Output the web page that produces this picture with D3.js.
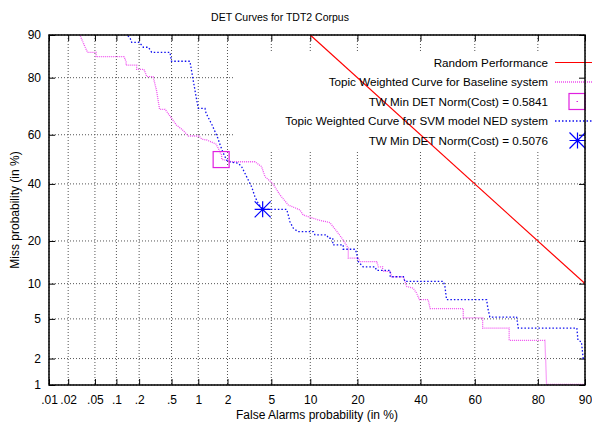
<!DOCTYPE html>
<html>
<head>
<meta charset="utf-8">
<script src="https://cdn.jsdelivr.net/npm/d3@7"></script>
<style>
body { margin: 0; background: #fff; }
text { font-family: "Liberation Sans", Arial, sans-serif; fill: #000; }
</style>
</head>
<body>
<div id="my_dataviz"></div>
<script>
// tick positions (in %) and labels
var xTicks = [0.01, 0.02, 0.05, 0.1, 0.2, 0.5, 1, 2, 5, 10, 20, 40, 60, 80, 90];
var xTickLabels = [".01", ".02", ".05", ".1", ".2", ".5", "1", "2", "5", "10", "20", "40", "60", "80", "90"];
var yTicks = [1, 2, 5, 10, 20, 40, 60, 80, 90];
var yTickLabels = ["1", "2", "5", "10", "20", "40", "60", "80", "90"];

// random performance
var randomFa = [10, 90];
var randomMiss = [90, 10];

// baseline system curve
var baseFa = [0.029, 0.034, 0.039, 0.052, 0.052, 0.127, 0.135, 0.135, 0.186, 0.186, 0.231, 0.25, 0.30, 0.33, 0.36, 0.42, 0.50, 0.57, 0.67, 0.78,
	1.02, 1.09, 1.23, 1.53, 1.62, 1.69, 1.75, 1.75, 2.20, 3.61, 4.13, 4.42, 5.13, 5.89, 6.85, 8.41, 8.89, 11.4, 13.6, 15.1,
	16.2, 17.7, 17.7, 20.2, 20.7, 25.4, 25.9, 27.2, 27.2, 29.6, 30.1, 34.0, 35.1, 37.4, 38.6, 39.6, 42.8, 43.5, 55.8, 55.8,
	62.8, 62.8, 71.7, 71.7, 81.8, 82.2, 90];
var baseMiss = [90.5, 88.4, 86.5, 86.5, 85.5, 85.5, 84.3, 83.4, 83.4, 82.3, 82.3, 80.3, 80.3, 76.2, 69.7, 69.7, 66.4, 63.8, 61.9, 59.5,
	59.5, 58.2, 57.9, 56.3, 54.5, 52.7, 51.8, 50.0, 49.0, 49.0, 47.0, 42.9, 40.2, 35.7, 31.9, 30.1, 28.3, 26.6, 25.7, 22.8,
	20.8, 18.0, 15.4, 15.4, 14.6, 14.6, 13.4, 13.4, 12.4, 12.4, 11.3, 11.3, 9.5, 9.2, 8.4, 7.4, 7.4, 6.2, 6.2, 5.1,
	5.1, 4.1, 4.1, 3.1, 3.1, 1.02, 1.02];

// SVM model NED system curve
var svmFa = [0.132, 0.152, 0.160, 0.201, 0.226, 0.262, 0.288, 0.479, 0.50, 0.81, 0.88, 0.94, 1.00, 1.18, 1.21, 1.40, 1.60, 1.69, 1.82, 1.96,
	2.11, 2.54, 2.73, 2.93, 3.14, 3.37, 3.61, 3.86, 4.22, 6.66, 6.85, 7.06, 7.49, 8.13, 10.5, 10.8, 12.95, 13.3, 14.2, 14.2,
	16.5, 16.5, 19.4, 19.8, 20.2, 21.5, 24.9, 25.4, 29.6, 29.6, 34.0, 34.5, 48.4, 49.0, 49.6, 64.2, 64.6, 65.3, 74.0, 74.5,
	88.6, 88.8, 89.4, 89.7, 90.5];
var svmMiss = [90.3, 89.5, 88.6, 88.6, 87.6, 87.6, 86.5, 86.5, 84.4, 84.4, 79.3, 74.6, 70.0, 70.0, 68.3, 63.8, 58.7, 55.9, 52.5, 49.7,
	48.9, 48.4, 47.0, 44.3, 41.6, 38.9, 35.0, 32.5, 30.3, 30.3, 28.3, 26.0, 23.9, 22.8, 22.8, 21.8, 21.8, 20.8, 20.8, 18.9,
	18.9, 17.7, 17.7, 16.7, 14.6, 13.4, 13.4, 12.6, 12.6, 11.3, 11.3, 10.4, 10.4, 9.5, 7.4, 7.4, 6.3, 5.2, 5.2, 4.1,
	4.1, 3.1, 3.0, 2.0, 2.0];

// min DET cost points
var baseMinFa = [1.73], baseMinMiss = [49.9];
var svmMinFa = [4.22], svmMinMiss = [30.3];

var legendLabels = ["Random Performance", "Topic Weighted Curve for Baseline system", "TW Min DET Norm(Cost) = 0.5841",
	"Topic Weighted Curve for SVM model NED system", "TW Min DET Norm(Cost) = 0.5076"];

// inverse normal cdf (Acklam)
function probit(p) {
	var a = [-39.69683028665376, 220.9460984245205, -275.9285104469687, 138.3577518672690, -30.66479806614716, 2.506628277459239];
	var b = [-54.47609879822406, 161.5858368580409, -155.6989798598866, 66.80131188771972, -13.28068155288572];
	var c = [-0.007784894002430293, -0.3223964580411365, -2.400758277161838, -2.549732539343734, 4.374664141464968, 2.938163982698783];
	var d = [0.007784695709041462, 0.3224671290700398, 2.445134137142996, 3.754408661907416];
	var plow = 0.02425, q, r;
	if (p < plow) {
		q = Math.sqrt(-2 * Math.log(p));
		return (((((c[0]*q+c[1])*q+c[2])*q+c[3])*q+c[4])*q+c[5]) / ((((d[0]*q+d[1])*q+d[2])*q+d[3])*q+1);
	}
	if (p > 1 - plow) {
		q = Math.sqrt(-2 * Math.log(1 - p));
		return -(((((c[0]*q+c[1])*q+c[2])*q+c[3])*q+c[4])*q+c[5]) / ((((d[0]*q+d[1])*q+d[2])*q+d[3])*q+1);
	}
	q = p - 0.5; r = q * q;
	return (((((a[0]*r+a[1])*r+a[2])*r+a[3])*r+a[4])*r+a[5])*q / (((((b[0]*r+b[1])*r+b[2])*r+b[3])*r+b[4])*r+1);
}

var margin = { top: 35, right: 7, bottom: 39, left: 49 };
var width = 592 - margin.left - margin.right,
	height = 424 - margin.top - margin.bottom;

var svg = d3.select("#my_dataviz")
	.append("svg")
	.attr("width", 592)
	.attr("height", 424)
	.style("display", "block")
	.append("g")
	.attr("transform", "translate(" + margin.left + "," + margin.top + ")");

// normal deviate scales
var xLin = d3.scaleLinear().domain([probit(0.0001), probit(0.9)]).range([0, width]);
var yLin = d3.scaleLinear().domain([probit(0.01), probit(0.9)]).range([height, 0]);
var x = function(v) { return xLin(probit(v / 100)); };
var y = function(v) { return yLin(probit(v / 100)); };

// grid
svg.append("g").selectAll("line").data(xTicks).enter().append("line")
	.attr("x1", x).attr("x2", x).attr("y1", 0).attr("y2", height)
	.attr("stroke", "#555").attr("stroke-dasharray", "1,2");
svg.append("g").selectAll("line").data(yTicks).enter().append("line")
	.attr("y1", y).attr("y2", y).attr("x1", 0).attr("x2", width)
	.attr("stroke", "#555").attr("stroke-dasharray", "1,2");

// key area hides the grid
svg.append("rect")
	.attr("x", 184).attr("y", 17).attr("width", width - 184).attr("height", 100)
	.attr("fill", "#fff");

// axes: inner ticks on all sides
var xv = xTicks.map(function(d) { return probit(d / 100); });
var yv = yTicks.map(function(d) { return probit(d / 100); });

svg.append("g")
	.attr("transform", "translate(0," + height + ")")
	.call(d3.axisBottom(xLin).tickValues(xv).tickSize(-6).tickPadding(10)
		.tickFormat(function(d, i) { return xTickLabels[i]; }))
	.style("font-family", "Liberation Sans, Arial")
	.style("font-size", "12px");
svg.append("g")
	.call(d3.axisTop(xLin).tickValues(xv).tickSize(-6).tickFormat(""));
svg.append("g")
	.call(d3.axisLeft(yLin).tickValues(yv).tickSize(-6).tickPadding(8)
		.tickFormat(function(d, i) { return yTickLabels[i]; }))
	.style("font-family", "Liberation Sans, Arial")
	.style("font-size", "12px");
svg.append("g")
	.attr("transform", "translate(" + width + ",0)")
	.call(d3.axisRight(yLin).tickValues(yv).tickSize(-6).tickFormat(""));
svg.selectAll(".domain").remove();
svg.selectAll(".tick line").attr("stroke", "#000");

// clip curves to plot area
svg.append("clipPath").attr("id", "clip")
	.append("rect").attr("width", width).attr("height", height);
var plot = svg.append("g").attr("clip-path", "url(#clip)");

var line = d3.line()
	.x(function(d) { return x(d[0]); })
	.y(function(d) { return y(d[1]); });

plot.append("path")
	.datum(d3.zip(baseFa, baseMiss))
	.attr("d", line)
	.attr("fill", "none")
	.attr("stroke", "#f050f0")
	.attr("stroke-width", 1.3)
	.attr("stroke-dasharray", "1,1");

plot.append("path")
	.datum(d3.zip(svmFa, svmMiss))
	.attr("d", line)
	.attr("fill", "none")
	.attr("stroke", "#1010f0")
	.attr("stroke-width", 1.3)
	.attr("stroke-dasharray", "1.5,2");

// min cost markers
function square(g, cx, cy) {
	g.append("rect").attr("x", cx - 8).attr("y", cy - 8).attr("width", 16).attr("height", 16)
		.attr("fill", "none").attr("stroke", "#e020e0").attr("stroke-width", 1.2);
}
function star(g, cx, cy) {
	var s = 8;
	g.append("path")
		.attr("d", "M" + (cx - s) + "," + cy + "H" + (cx + s) + "M" + cx + "," + (cy - s) + "V" + (cy + s) +
			"M" + (cx - s) + "," + (cy - s) + "L" + (cx + s) + "," + (cy + s) +
			"M" + (cx - s) + "," + (cy + s) + "L" + (cx + s) + "," + (cy - s))
		.attr("stroke", "#0000ff").attr("stroke-width", 1.2).attr("fill", "none");
}
square(plot, x(baseMinFa[0]), y(baseMinMiss[0]));
star(plot, x(svmMinFa[0]), y(svmMinMiss[0]));

// key
var keyX = 499, keyY = 27.5, keyStep = 19.5;
svg.selectAll(".key")
	.data(legendLabels)
	.enter()
	.append("text")
	.attr("x", keyX)
	.attr("y", function(d, i) { return keyY + i * keyStep; })
	.attr("dy", "0.35em")
	.attr("text-anchor", "end")
	.style("font-size", "11.7px")
	.text(function(d) { return d; });

var key = svg.append("g");
key.append("line").attr("x1", 506).attr("x2", 545).attr("y1", keyY).attr("y2", keyY)
	.attr("stroke", "#ff0000").attr("stroke-width", 1.2);
key.append("line").attr("x1", 506).attr("x2", 545).attr("y1", keyY + keyStep).attr("y2", keyY + keyStep)
	.attr("stroke", "#f050f0").attr("stroke-width", 1.3).attr("stroke-dasharray", "1,1");
square(key, 528, keyY + 2 * keyStep);
key.append("rect").attr("x", 527.5).attr("y", keyY + 2 * keyStep - 0.5).attr("width", 1.5).attr("height", 1).attr("fill", "#e020e0");
key.append("line").attr("x1", 506).attr("x2", 545).attr("y1", keyY + 3 * keyStep).attr("y2", keyY + 3 * keyStep)
	.attr("stroke", "#1010f0").attr("stroke-width", 1.3).attr("stroke-dasharray", "1.5,2");
star(key, 528.5, keyY + 4 * keyStep);

// random performance line
plot.append("path")
	.datum(d3.zip(randomFa, randomMiss))
	.attr("d", line)
	.attr("fill", "none")
	.attr("stroke", "#ff0000")
	.attr("stroke-width", 1.2);

// border
svg.append("rect")
	.attr("width", width).attr("height", height)
	.attr("fill", "none").attr("stroke", "#000").attr("stroke-width", 1.5);

// title and axis labels
svg.append("text")
	.attr("x", width / 2 - 37).attr("y", -18)
	.attr("dy", "0.35em")
	.attr("text-anchor", "middle")
	.style("font-size", "10.5px")
	.text("DET Curves for TDT2 Corpus");
svg.append("text")
	.attr("x", width / 2).attr("y", height + 30)
	.attr("dy", "0.35em")
	.attr("text-anchor", "middle")
	.style("font-size", "12px")
	.text("False Alarms probability (in %)");
svg.append("text")
	.attr("transform", "translate(" + (-34) + "," + (height / 2) + ")rotate(-90)")
	.attr("dy", "0.35em")
	.attr("text-anchor", "middle")
	.style("font-size", "12px")
	.text("Miss probability (in %)");
</script>
</body>
</html>
